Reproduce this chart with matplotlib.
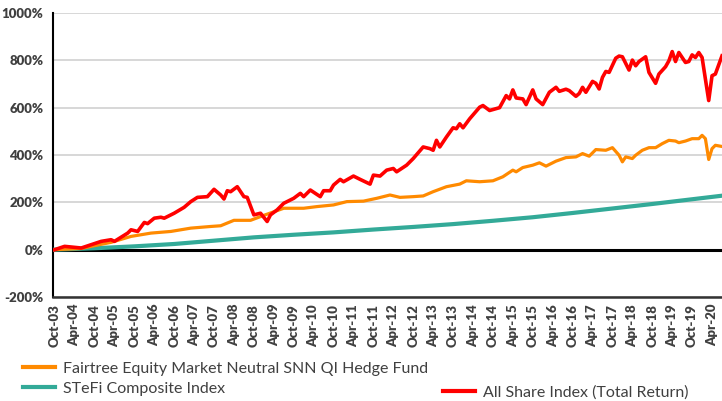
import matplotlib
matplotlib.use("Agg")
import matplotlib.pyplot as plt
from matplotlib.lines import Line2D
from matplotlib.ticker import FuncFormatter

# month index 0 = Oct-03
tick_labels = []
for y in range(3, 21):
    tick_labels += ["Oct-%02d" % y, "Apr-%02d" % (y + 1)]
tick_labels = tick_labels[:34]
tick_pos = [6 * k for k in range(len(tick_labels))]

alsi_months = [0, 3, 8, 11, 14, 17, 18, 22, 23, 25, 27, 28, 30, 32, 33, 36, 39, 41, 43, 46,
               48, 50, 51, 52, 53, 55, 57, 58, 60, 62, 64, 65, 67, 69, 72, 74, 75, 77, 80, 81,
               83, 84, 86, 87, 90, 92, 95, 96, 98, 100, 102, 103, 106, 108, 111, 113, 114, 115, 116, 118,
               120, 121, 122, 123, 125, 128, 129, 131, 134, 136, 137, 138, 139, 141, 142, 144, 145, 147, 149, 151,
               152, 154, 155, 157, 158, 159, 160, 162, 163, 164, 165, 166, 167, 169, 170, 171, 173, 174, 175, 176,
               178, 179, 181, 182, 184, 185, 186, 187, 188, 190, 191, 192, 193, 194, 195, 197, 198, 199, 201]
alsi_values = [0, 14, 7, 21, 35, 42, 35, 70, 84, 77, 115, 110, 133, 137, 133, 154, 179, 203, 221, 224,
               255, 231, 214, 249, 245, 266, 224, 221, 147, 154, 119, 147, 168, 196, 217, 238, 224, 252, 224, 249,
               249, 273, 297, 287, 311, 297, 277, 315, 311, 336, 343, 329, 357, 385, 434, 427, 420, 462, 434, 476,
               515, 511, 532, 515, 553, 602, 609, 588, 600, 651, 637, 675, 641, 637, 613, 675, 637, 613, 665, 686,
               669, 678, 672, 648, 660, 686, 665, 711, 703, 679, 728, 753, 749, 809, 818, 815, 759, 801, 777, 795,
               815, 749, 703, 742, 773, 798, 837, 795, 833, 791, 795, 823, 812, 833, 812, 630, 735, 742, 819]

fund_months = [0, 8, 11, 17, 23, 29, 35, 41, 47, 50, 54, 59, 63, 69, 75, 79, 84, 88, 93, 97,
               101, 104, 108, 111, 114, 118, 122, 124, 128, 132, 135, 138, 139, 141, 144, 146, 148, 151, 154, 157,
               159, 161, 163, 166, 168, 170, 171, 172, 174, 175, 177, 179, 181, 183, 185, 187, 188, 190, 192, 194,
               195, 196, 197, 198, 199, 201]
fund_values = [0, 5, 14, 31, 56, 70, 77, 91, 98, 101, 124, 124, 145, 175, 175, 182, 189, 203, 205, 217,
               231, 221, 224, 227, 245, 266, 277, 291, 287, 291, 308, 336, 329, 347, 357, 367, 353, 374, 389, 392,
               406, 395, 423, 420, 431, 399, 371, 392, 385, 399, 420, 431, 431, 448, 462, 459, 452, 459, 469, 469,
               483, 469, 381, 427, 441, 436]

stefi_months = [0, 12, 24, 36, 48, 60, 72, 84, 96, 108, 120, 132, 144, 156, 168, 180, 192, 201]
stefi_values = [0, 6, 14, 24, 38, 52, 63, 73, 85, 96, 108, 122, 137, 155, 174, 193, 213, 228]

fund_label = "Fairtree Equity Market Neutral SNN QI Hedge Fund"
stefi_label = "STeFi Composite Index"
alsi_label = "All Share Index (Total Return)"

plt.rcParams['font.family'] = ['Lato', 'DejaVu Sans']

fig = plt.figure(figsize=(7.22, 4.01), dpi=100)
ax = fig.add_axes([53 / 722, 104 / 401, 669 / 722, 284 / 401])

ax.set_ylim(-200, 1000)
ax.set_xlim(-0.5, 201)
ax.set_yticks(range(-200, 1001, 200))
ax.yaxis.set_major_formatter(FuncFormatter(lambda v, p: "%d%%" % v))
ax.grid(axis='y', color='#d4d4d4', linewidth=1.3)
ax.set_axisbelow(True)
ax.axhline(0, color='black', linewidth=2.2, zorder=2)

ax.plot(stefi_months, stefi_values, color='#33aa98', linewidth=3.0, zorder=3)
ax.plot(fund_months, fund_values, color='#ff8a00', linewidth=2.3, zorder=4)
ax.plot(alsi_months, alsi_values, color='#ff0000', linewidth=2.6, zorder=5)

ax.set_xticks(tick_pos)
ax.set_xticklabels(tick_labels, rotation=90)
ax.tick_params(axis='both', length=0, labelcolor='#404040', labelsize=9.5)
ax.tick_params(axis='y', pad=7)
ax.tick_params(axis='x', pad=5)
for lab in ax.get_xticklabels() + ax.get_yticklabels():
    lab.set_fontweight('heavy')

for side in ['top', 'right']:
    ax.spines[side].set_visible(False)
ax.spines['left'].set_color('black')
ax.spines['left'].set_linewidth(1.5)
ax.spines['bottom'].set_color('#333333')
ax.spines['bottom'].set_linewidth(1.8)

h_fund = Line2D([], [], color='#ff8a00', linewidth=3)
h_stefi = Line2D([], [], color='#33aa98', linewidth=3)
h_alsi = Line2D([], [], color='#ff0000', linewidth=3)
leg1 = fig.legend([h_fund, h_stefi], [fund_label, stefi_label], loc='upper left',
                  bbox_to_anchor=(0.032, 0.098), frameon=False, fontsize=11.5,
                  handlelength=2.0, handletextpad=0.5, labelspacing=0.35,
                  borderpad=0, borderaxespad=0, labelcolor='#404040')
leg2 = fig.legend([h_alsi], [alsi_label], loc='upper left',
                  bbox_to_anchor=(0.614, 0.04), frameon=False, fontsize=11.5,
                  handlelength=2.0, handletextpad=0.5,
                  borderpad=0, borderaxespad=0, labelcolor='#404040')

fig.savefig("out.png", dpi=100)
